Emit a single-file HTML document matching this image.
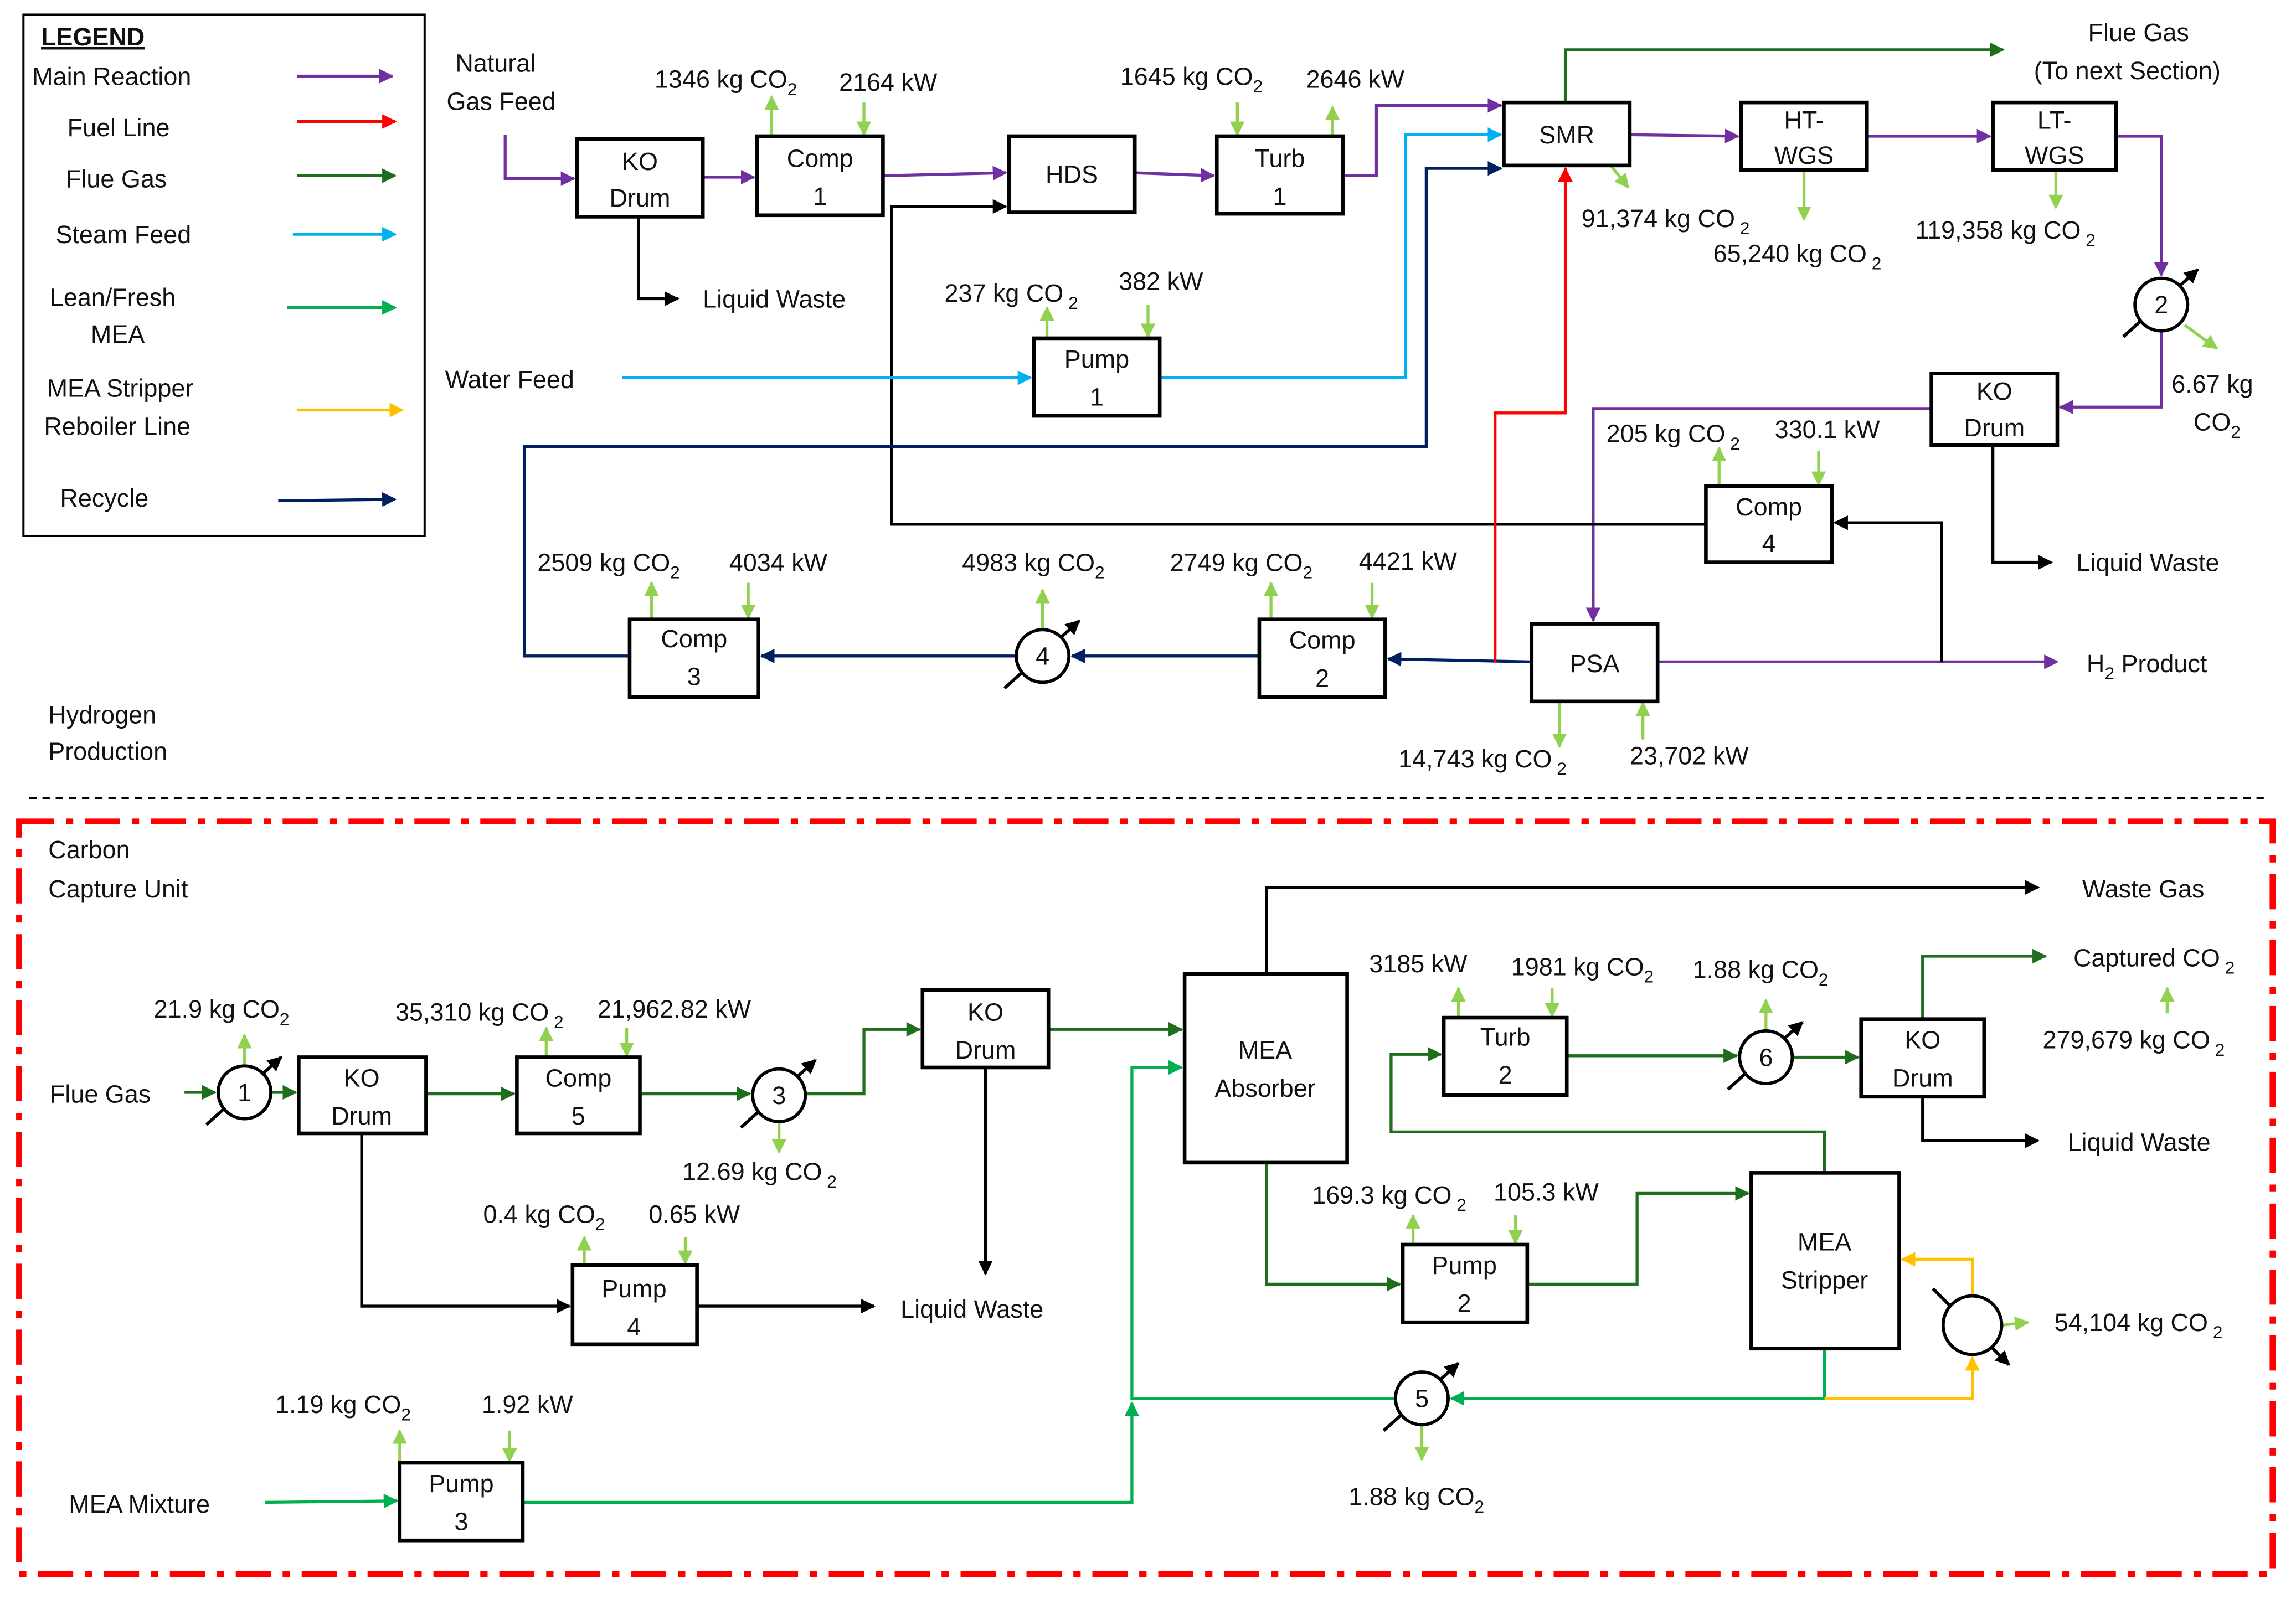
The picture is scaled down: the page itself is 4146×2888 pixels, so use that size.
<!DOCTYPE html>
<html><head><meta charset="utf-8"><style>
html,body{margin:0;padding:0;background:#fff;}
svg{display:block;}
text{font-family:"Liberation Sans",sans-serif;font-size:17px;fill:#111;}
</style></head><body>
<svg width="4146" height="2888" viewBox="0 0 1568 1092" preserveAspectRatio="none" xmlns="http://www.w3.org/2000/svg">
<defs>
<marker id="mP" markerWidth="10" markerHeight="10" refX="9" refY="5" orient="auto" markerUnits="userSpaceOnUse"><path d="M0,0 L10,5 L0,10 z" fill="#7030A0"/></marker>
<marker id="mR" markerWidth="10" markerHeight="10" refX="9" refY="5" orient="auto" markerUnits="userSpaceOnUse"><path d="M0,0 L10,5 L0,10 z" fill="#FF0000"/></marker>
<marker id="mG" markerWidth="10" markerHeight="10" refX="9" refY="5" orient="auto" markerUnits="userSpaceOnUse"><path d="M0,0 L10,5 L0,10 z" fill="#1E6E1E"/></marker>
<marker id="mS" markerWidth="10" markerHeight="10" refX="9" refY="5" orient="auto" markerUnits="userSpaceOnUse"><path d="M0,0 L10,5 L0,10 z" fill="#00B0F0"/></marker>
<marker id="mL" markerWidth="10" markerHeight="10" refX="9" refY="5" orient="auto" markerUnits="userSpaceOnUse"><path d="M0,0 L10,5 L0,10 z" fill="#00B050"/></marker>
<marker id="mY" markerWidth="10" markerHeight="10" refX="9" refY="5" orient="auto" markerUnits="userSpaceOnUse"><path d="M0,0 L10,5 L0,10 z" fill="#FFC000"/></marker>
<marker id="mN" markerWidth="10" markerHeight="10" refX="9" refY="5" orient="auto" markerUnits="userSpaceOnUse"><path d="M0,0 L10,5 L0,10 z" fill="#002060"/></marker>
<marker id="mK" markerWidth="10" markerHeight="10" refX="9" refY="5" orient="auto" markerUnits="userSpaceOnUse"><path d="M0,0 L10,5 L0,10 z" fill="#000"/></marker>
<marker id="mA" markerWidth="10" markerHeight="10" refX="9" refY="5" orient="auto" markerUnits="userSpaceOnUse"><path d="M0,0 L10,5 L0,10 z" fill="#92D050"/></marker>
</defs>
<rect width="1568" height="1092" fill="#fff"/>

<rect x="16" y="10" width="274" height="356" fill="none" stroke="#000" stroke-width="1.5"/>
<text x="28" y="31" font-weight="bold" text-decoration="underline">LEGEND</text>
<text x="22" y="58">Main Reaction</text>
<text x="46" y="93">Fuel Line</text>
<text x="45" y="128">Flue Gas</text>
<text x="38" y="166">Steam Feed</text>
<text x="34" y="209">Lean/Fresh</text><text x="62" y="234">MEA</text>
<text x="32" y="271">MEA Stripper</text><text x="30" y="297">Reboiler Line</text>
<text x="41" y="346">Recycle</text>
<g stroke-width="2" fill="none">
<line x1="203" y1="52" x2="268" y2="52" stroke="#7030A0" marker-end="url(#mP)"/>
<line x1="203" y1="83" x2="270" y2="83" stroke="#FF0000" marker-end="url(#mR)"/>
<line x1="203" y1="120" x2="270" y2="120" stroke="#1E6E1E" marker-end="url(#mG)"/>
<line x1="200" y1="160" x2="270" y2="160" stroke="#00B0F0" marker-end="url(#mS)"/>
<line x1="196" y1="210" x2="270" y2="210" stroke="#00B050" marker-end="url(#mL)"/>
<line x1="203" y1="280" x2="275" y2="280" stroke="#FFC000" marker-end="url(#mY)"/>
<line x1="190" y1="342" x2="270" y2="341" stroke="#002060" marker-end="url(#mN)"/>
</g>

<line x1="20" y1="545" x2="1550" y2="545" stroke="#000" stroke-width="1.2" stroke-dasharray="5,4"/>
<rect x="13" y="561" width="1539" height="514" fill="none" stroke="#FF0000" stroke-width="4" stroke-dasharray="24,8,5,8"/>

<g stroke-width="2" fill="none">
<polyline points="345,92 345,122 392,122" stroke="#7030A0" marker-end="url(#mP)"/>
<line x1="480" y1="121" x2="515" y2="121" stroke="#7030A0" marker-end="url(#mP)"/>
<line x1="603" y1="120" x2="687" y2="118" stroke="#7030A0" marker-end="url(#mP)"/>
<line x1="775" y1="118" x2="829" y2="120" stroke="#7030A0" marker-end="url(#mP)"/>
<polyline points="917,120 940,120 940,72 1025,72" stroke="#7030A0" marker-end="url(#mP)"/>
<line x1="1113" y1="92" x2="1187" y2="93" stroke="#7030A0" marker-end="url(#mP)"/>
<line x1="1275" y1="93" x2="1359" y2="93" stroke="#7030A0" marker-end="url(#mP)"/>
<polyline points="1445,93 1476,93 1476,188" stroke="#7030A0" marker-end="url(#mP)"/>
<polyline points="1476,226 1476,278 1407,278" stroke="#7030A0" marker-end="url(#mP)"/>
<polyline points="1319,279 1088,279 1088,424" stroke="#7030A0" marker-end="url(#mP)"/>
<line x1="1132" y1="452" x2="1405" y2="452" stroke="#7030A0" marker-end="url(#mP)"/>
<polyline points="1361,304 1361,384 1401,384" stroke="#000" marker-end="url(#mK)"/>
<polyline points="1326,452 1326,357 1253,357" stroke="#000" marker-end="url(#mK)"/>
<polyline points="1165,358 609,358 609,141 687,141" stroke="#000" marker-end="url(#mK)"/>
<polyline points="436,148 436,204 463,204" stroke="#000" marker-end="url(#mK)"/>
<line x1="1046" y1="452" x2="948" y2="450" stroke="#002060" marker-end="url(#mN)"/>
<line x1="860" y1="448" x2="732" y2="448" stroke="#002060" marker-end="url(#mN)"/>
<line x1="694" y1="448" x2="520" y2="448" stroke="#002060" marker-end="url(#mN)"/>
<polyline points="430,448 358,448 358,305 974,305 974,115 1025,115" stroke="#002060" marker-end="url(#mN)"/>
<polyline points="1021,452 1021,282 1069,282 1069,115" stroke="#FF0000" marker-end="url(#mR)"/>
<line x1="425" y1="258" x2="704" y2="258" stroke="#00B0F0" marker-end="url(#mS)"/>
<polyline points="792,258 960,258 960,92 1025,92" stroke="#00B0F0" marker-end="url(#mS)"/>
<polyline points="1069,70 1069,34 1368,34" stroke="#1E6E1E" marker-end="url(#mG)"/>
</g>

<g stroke-width="2" fill="none">
<line x1="126" y1="746" x2="147" y2="746" stroke="#1E6E1E" marker-end="url(#mG)"/>
<line x1="185" y1="746" x2="202" y2="746" stroke="#1E6E1E" marker-end="url(#mG)"/>
<line x1="291" y1="747" x2="351" y2="747" stroke="#1E6E1E" marker-end="url(#mG)"/>
<line x1="437" y1="747" x2="512" y2="747" stroke="#1E6E1E" marker-end="url(#mG)"/>
<polyline points="550,747 590,747 590,703 628,703" stroke="#1E6E1E" marker-end="url(#mG)"/>
<line x1="716" y1="703" x2="807" y2="703" stroke="#1E6E1E" marker-end="url(#mG)"/>
<line x1="673" y1="729" x2="673" y2="870" stroke="#000" marker-end="url(#mK)"/>
<polyline points="865,665 865,606 1392,606" stroke="#000" marker-end="url(#mK)"/>
<polyline points="865,794 865,877 956,877" stroke="#1E6E1E" marker-end="url(#mG)"/>
<polyline points="1043,877 1118,877 1118,815 1194,815" stroke="#1E6E1E" marker-end="url(#mG)"/>
<polyline points="1246,801 1246,773 950,773 950,720 984,720" stroke="#1E6E1E" marker-end="url(#mG)"/>
<line x1="1070" y1="721" x2="1186" y2="721" stroke="#1E6E1E" marker-end="url(#mG)"/>
<line x1="1224" y1="722" x2="1269" y2="722" stroke="#1E6E1E" marker-end="url(#mG)"/>
<polyline points="1313,696 1313,653 1397,653" stroke="#1E6E1E" marker-end="url(#mG)"/>
<polyline points="1313,749 1313,779 1392,779" stroke="#000" marker-end="url(#mK)"/>
<polyline points="247,774 247,892 389,892" stroke="#000" marker-end="url(#mK)"/>
<line x1="476" y1="892" x2="597" y2="892" stroke="#000" marker-end="url(#mK)"/>
<polyline points="1246,921 1246,955 991,955" stroke="#00B050" marker-end="url(#mL)"/>
<polyline points="953,955 773,955 773,729 807,729" stroke="#00B050" marker-end="url(#mL)"/>
<line x1="181" y1="1026" x2="271" y2="1025" stroke="#00B050" marker-end="url(#mL)"/>
<polyline points="357,1026 773,1026 773,958" stroke="#00B050" marker-end="url(#mL)"/>
<polyline points="1246,955 1347,955 1347,927" stroke="#FFC000" marker-end="url(#mY)"/>
<polyline points="1347,885 1347,860 1299,860" stroke="#FFC000" marker-end="url(#mY)"/>
</g>

<g stroke="#92D050" stroke-width="2" fill="none" marker-end="url(#mA)">
<line x1="527" y1="93" x2="527" y2="66"/><line x1="590" y1="70" x2="590" y2="92"/>
<line x1="845" y1="70" x2="845" y2="92"/><line x1="910" y1="93" x2="910" y2="73"/>
<line x1="1100" y1="113" x2="1112" y2="128"/>
<line x1="1232" y1="116" x2="1232" y2="150"/>
<line x1="1404" y1="116" x2="1404" y2="142"/>
<line x1="1492" y1="222" x2="1514" y2="238"/>
<line x1="715" y1="231" x2="715" y2="210"/><line x1="784" y1="208" x2="784" y2="230"/>
<line x1="1174" y1="332" x2="1174" y2="306"/><line x1="1242" y1="308" x2="1242" y2="331"/>
<line x1="1065" y1="479" x2="1065" y2="510"/><line x1="1122" y1="505" x2="1122" y2="480"/>
<line x1="868" y1="423" x2="868" y2="398"/><line x1="937" y1="398" x2="937" y2="422"/>
<line x1="712" y1="430" x2="712" y2="403"/>
<line x1="445" y1="423" x2="445" y2="398"/><line x1="511" y1="398" x2="511" y2="422"/>
<line x1="167" y1="728" x2="167" y2="707"/>
<line x1="373" y1="722" x2="373" y2="702"/><line x1="428" y1="702" x2="428" y2="721"/>
<line x1="532" y1="766" x2="532" y2="787"/>
<line x1="399" y1="864" x2="399" y2="845"/><line x1="468" y1="845" x2="468" y2="863"/>
<line x1="273" y1="999" x2="273" y2="977"/><line x1="348" y1="977" x2="348" y2="998"/>
<line x1="965" y1="850" x2="965" y2="830"/><line x1="1035" y1="830" x2="1035" y2="849"/>
<line x1="971" y1="973" x2="971" y2="997"/>
<line x1="996" y1="695" x2="996" y2="675"/><line x1="1060" y1="675" x2="1060" y2="694"/>
<line x1="1206" y1="704" x2="1206" y2="683"/>
<line x1="1480" y1="692" x2="1480" y2="675"/>
<line x1="1367" y1="905" x2="1385" y2="903"/>
</g>

<g fill="#fff" stroke="#000" stroke-width="2.5">
<rect x="394" y="95" width="86" height="53"/>
<rect x="517" y="93" width="86" height="54"/>
<rect x="689" y="93" width="86" height="52"/>
<rect x="831" y="93" width="86" height="53"/>
<rect x="1027" y="70" width="86" height="43"/>
<rect x="1189" y="70" width="86" height="46"/>
<rect x="1361" y="70" width="84" height="46"/>
<rect x="1319" y="255" width="86" height="49"/>
<rect x="1165" y="332" width="86" height="52"/>
<rect x="1046" y="426" width="86" height="53"/>
<rect x="860" y="423" width="86" height="53"/>
<rect x="430" y="423" width="88" height="53"/>
<rect x="706" y="231" width="86" height="53"/>
<rect x="204" y="722" width="87" height="52"/>
<rect x="353" y="722" width="84" height="52"/>
<rect x="630" y="676" width="86" height="53"/>
<rect x="809" y="665" width="111" height="129"/>
<rect x="986" y="695" width="84" height="53"/>
<rect x="1271" y="696" width="84" height="53"/>
<rect x="1196" y="801" width="101" height="120"/>
<rect x="958" y="850" width="85" height="53"/>
<rect x="391" y="864" width="85" height="54"/>
<rect x="273" y="999" width="84" height="53"/>
</g>

<g stroke="#000" stroke-width="2.2">
<g marker-end="url(#mK)">
<line x1="1450" y1="230" x2="1501" y2="184"/>
<line x1="686" y1="470" x2="737" y2="424"/>
<line x1="141" y1="768" x2="192" y2="722"/>
<line x1="506" y1="770" x2="557" y2="724"/>
<line x1="1180" y1="744" x2="1231" y2="698"/>
<line x1="945" y1="977" x2="996" y2="931"/>
<line x1="1320" y1="880" x2="1372" y2="932"/>
</g>
<g fill="#fff"><circle cx="1476" cy="208" r="18"/><circle cx="712" cy="448" r="18"/><circle cx="167" cy="746" r="18"/><circle cx="532" cy="748" r="18"/><circle cx="1206" cy="722" r="18"/><circle cx="971" cy="955" r="18"/><circle cx="1347" cy="905" r="20"/></g>
</g>

<g text-anchor="middle">
<text x="437" y="116">KO</text><text x="437" y="141">Drum</text>
<text x="560" y="114">Comp</text><text x="560" y="140">1</text>
<text x="732" y="125">HDS</text>
<text x="874" y="114">Turb</text><text x="874" y="140">1</text>
<text x="1070" y="98">SMR</text>
<text x="1232" y="88">HT-</text><text x="1232" y="112">WGS</text>
<text x="1403" y="88">LT-</text><text x="1403" y="112">WGS</text>
<text x="1362" y="273">KO</text><text x="1362" y="298">Drum</text>
<text x="1208" y="352">Comp</text><text x="1208" y="377">4</text>
<text x="1089" y="459">PSA</text>
<text x="903" y="443">Comp</text><text x="903" y="469">2</text>
<text x="474" y="442">Comp</text><text x="474" y="468">3</text>
<text x="749" y="251">Pump</text><text x="749" y="277">1</text>
<text x="1476" y="214">2</text><text x="712" y="454">4</text>
<text x="167" y="752">1</text><text x="532" y="754">3</text><text x="1206" y="728">6</text><text x="971" y="961">5</text>
<text x="247" y="742">KO</text><text x="247" y="768">Drum</text>
<text x="395" y="742">Comp</text><text x="395" y="768">5</text>
<text x="673" y="697">KO</text><text x="673" y="723">Drum</text>
<text x="864" y="723">MEA</text><text x="864" y="749">Absorber</text>
<text x="1028" y="714">Turb</text><text x="1028" y="740">2</text>
<text x="1313" y="716">KO</text><text x="1313" y="742">Drum</text>
<text x="1246" y="854">MEA</text><text x="1246" y="880">Stripper</text>
<text x="1000" y="870">Pump</text><text x="1000" y="896">2</text>
<text x="433" y="886">Pump</text><text x="433" y="912">4</text>
<text x="315" y="1019">Pump</text><text x="315" y="1045">3</text>
</g>

<text x="311" y="49">Natural</text><text x="305" y="75">Gas Feed</text>
<text x="480" y="210">Liquid Waste</text>
<text x="304" y="265">Water Feed</text>
<text x="1426" y="28">Flue Gas</text><text x="1389" y="54">(To next Section)</text>
<text x="1418" y="390">Liquid Waste</text>
<text x="1425" y="459">H<tspan font-size="12" dy="5">2</tspan><tspan dy="-5"> Product</tspan></text>
<text x="33" y="494">Hydrogen</text><text x="33" y="519">Production</text>
<text x="33" y="586">Carbon</text><text x="33" y="613">Capture Unit</text>
<text x="34" y="753">Flue Gas</text>
<text x="615" y="900">Liquid Waste</text>
<text x="1422" y="613">Waste Gas</text>
<text x="1416" y="660">Captured CO<tspan font-size="12" dy="5"> 2</tspan></text>
<text x="1412" y="786">Liquid Waste</text>
<text x="47" y="1033">MEA Mixture</text>

<g>
<text x="447" y="60">1346 kg CO<tspan font-size="12" dy="5">2</tspan></text>
<text x="573" y="62">2164  kW</text>
<text x="765" y="58">1645 kg CO<tspan font-size="12" dy="5">2</tspan></text>
<text x="892" y="60">2646  kW</text>
<text x="1080" y="155">91,374 kg CO<tspan font-size="12" dy="5"> 2</tspan></text>
<text x="1170" y="179">65,240 kg CO<tspan font-size="12" dy="5"> 2</tspan></text>
<text x="1308" y="163">119,358 kg CO<tspan font-size="12" dy="5"> 2</tspan></text>
<text x="1483" y="268">6.67 kg</text><text x="1498" y="294">CO<tspan font-size="12" dy="5">2</tspan></text>
<text x="645" y="206">237 kg CO<tspan font-size="12" dy="5"> 2</tspan></text>
<text x="764" y="198">382  kW</text>
<text x="1097" y="302">205 kg CO<tspan font-size="12" dy="5"> 2</tspan></text>
<text x="1212" y="299">330.1  kW</text>
<text x="367" y="390">2509  kg CO<tspan font-size="12" dy="5">2</tspan></text>
<text x="498" y="390">4034  kW</text>
<text x="657" y="390">4983  kg CO<tspan font-size="12" dy="5">2</tspan></text>
<text x="799" y="390">2749  kg CO<tspan font-size="12" dy="5">2</tspan></text>
<text x="928" y="389">4421  kW</text>
<text x="955" y="524">14,743 kg CO<tspan font-size="12" dy="5"> 2</tspan></text>
<text x="1113" y="522">23,702  kW</text>
<text x="105" y="695">21.9  kg CO<tspan font-size="12" dy="5">2</tspan></text>
<text x="270" y="697">35,310 kg CO<tspan font-size="12" dy="5"> 2</tspan></text>
<text x="408" y="695">21,962.82  kW</text>
<text x="466" y="806">12.69 kg CO<tspan font-size="12" dy="5"> 2</tspan></text>
<text x="330" y="835">0.4  kg CO<tspan font-size="12" dy="5">2</tspan></text>
<text x="443" y="835">0.65  kW</text>
<text x="188" y="965">1.19  kg CO<tspan font-size="12" dy="5">2</tspan></text>
<text x="329" y="965">1.92  kW</text>
<text x="896" y="822">169.3 kg CO<tspan font-size="12" dy="5"> 2</tspan></text>
<text x="1020" y="820">105.3  kW</text>
<text x="921" y="1028">1.88  kg CO<tspan font-size="12" dy="5">2</tspan></text>
<text x="935" y="664">3185  kW</text>
<text x="1032" y="666">1981  kg CO<tspan font-size="12" dy="5">2</tspan></text>
<text x="1156" y="668">1.88  kg CO<tspan font-size="12" dy="5">2</tspan></text>
<text x="1395" y="716">279,679 kg CO<tspan font-size="12" dy="5"> 2</tspan></text>
<text x="1403" y="909">54,104 kg CO<tspan font-size="12" dy="5"> 2</tspan></text>
</g>
</svg>
</body></html>
